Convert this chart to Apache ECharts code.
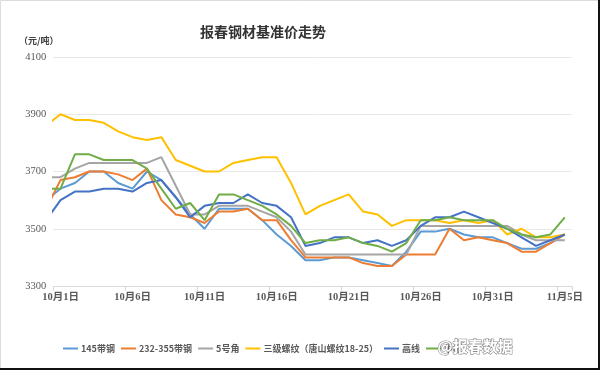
<!DOCTYPE html>
<html><head><meta charset="utf-8">
<script src="https://cdn.jsdelivr.net/npm/echarts@6/dist/echarts.min.js"></script>
<style>html,body{margin:0;padding:0;background:#fff}#c{width:600px;height:370px}</style>
</head><body><div id="c"></div>
<script>
// dates: the first one (9月30日) lies just left of the plot and is clipped, as in the reference
const dates = ['9月30日','10月1日','10月2日','10月3日','10月4日','10月5日','10月6日','10月7日','10月8日','10月9日','10月10日',
  '10月11日','10月12日','10月13日','10月14日','10月15日','10月16日','10月17日','10月18日','10月19日','10月20日',
  '10月21日','10月22日','10月23日','10月24日','10月25日','10月26日','10月27日','10月28日','10月29日','10月30日',
  '10月31日','11月1日','11月2日','11月3日','11月4日','11月5日'];
const axisDates = dates.slice(1);
const yMin = 3300, yMax = 4100, yStep = 200;

const s145 = [3600, 3640, 3660, 3700, 3700, 3660, 3640, 3700, 3670, 3610, 3550, 3500, 3570, 3570, 3570, 3530, 3480, 3440, 3390, 3390, 3400, 3400, 3390, 3380, 3370, 3420, 3490, 3490, 3500, 3480, 3470, 3470, 3450, 3430, 3430, 3450, 3480];
const s232 = [3570, 3670, 3680, 3700, 3700, 3690, 3670, 3710, 3600, 3550, 3540, 3520, 3560, 3560, 3570, 3530, 3530, 3460, 3400, 3400, 3400, 3400, 3380, 3370, 3370, 3410, 3410, 3410, 3500, 3460, 3470, 3460, 3450, 3420, 3420, 3450, 3480];
const s5 = [3680, 3680, 3710, 3730, 3730, 3730, 3730, 3730, 3750, 3650, 3550, 3550, 3580, 3580, 3580, 3560, 3540, 3490, 3410, 3410, 3410, 3410, 3410, 3410, 3410, 3410, 3510, 3510, 3510, 3510, 3510, 3510, 3510, 3480, 3460, 3460, 3460];
const sLuowen = [3860, 3900, 3880, 3880, 3870, 3840, 3820, 3810, 3820, 3740, 3720, 3700, 3700, 3730, 3740, 3750, 3750, 3660, 3550, 3580, 3600, 3620, 3560, 3550, 3510, 3530, 3530, 3530, 3520, 3530, 3520, 3530, 3480, 3500, 3470, 3470, 3480];
const sGaoxian = [3530, 3600, 3630, 3630, 3640, 3640, 3630, 3660, 3670, 3610, 3540, 3580, 3590, 3590, 3620, 3590, 3580, 3540, 3440, 3450, 3470, 3470, 3450, 3460, 3440, 3460, 3510, 3540, 3540, 3560, 3540, 3520, 3500, 3470, 3440, 3460, 3480];
const sZhongban = [3640, 3640, 3760, 3760, 3740, 3740, 3740, 3710, 3640, 3570, 3590, 3530, 3620, 3620, 3600, 3580, 3550, 3510, 3450, 3460, 3460, 3470, 3450, 3440, 3420, 3450, 3530, 3530, 3540, 3530, 3530, 3530, 3500, 3480, 3470, 3480, 3540];

const seriesNames = ['145带钢','232-355带钢','5号角','三级螺纹（唐山螺纹18-25）','高线','中板'];
const colors = ['#5B9BD5','#ED7D31','#A5A5A5','#FFC000','#4472C4','#70AD47'];
const values = [s145, s232, s5, sLuowen, sGaoxian, sZhongban];

const chart = echarts.init(document.getElementById('c'));
const series = values.map((arr, k) => ({
  name: seriesNames[k], type: 'line', xAxisIndex: 1, yAxisIndex: 0,
  data: arr.map((v, i) => [i - 0.5, v]),
  symbol: 'none', showSymbol: false, clip: true,
  lineStyle: { width: 2, color: colors[k] }, itemStyle: { color: colors[k] }
}));

chart.setOption({
  animation: false,
  backgroundColor: '#fff',
  title: [
    { text: '报春钢材基准价走势', left: 195, top: 20,
      textStyle: { fontSize: 14, fontWeight: 'bold', color: '#333', fontFamily: 'Noto Sans CJK SC' } },
    { text: '（元/吨）', left: 14, top: 31,
      textStyle: { fontSize: 9, fontWeight: 'bold', color: '#404040', fontFamily: 'Noto Sans CJK SC' } }
  ],
  grid: { left: 53.3, right: 28, top: 57, bottom: 84 },
  legend: {
    data: seriesNames, left: 58, top: 339, icon: 'rect', itemWidth: 15, itemHeight: 2, itemGap: 6,
    textStyle: { fontSize: 9, fontWeight: 'bold', color: '#595959', fontFamily: 'Noto Sans CJK SC', padding: [0,0,0,-2] }
  },
  xAxis: [
    { type: 'category', data: axisDates, boundaryGap: true,
      axisLine: { lineStyle: { color: '#d9d9d9' } },
      axisTick: { show: true, interval: 4, length: 5, lineStyle: { color: '#d9d9d9' } },
      axisLabel: { interval: 4, margin: 6, fontSize: 10.5, fontWeight: 'bold', color: '#595959',
        fontFamily: 'Liberation Serif, Noto Sans CJK SC' },
      splitLine: { show: false } },
    { type: 'value', min: 0, max: axisDates.length, show: false }
  ],
  yAxis: {
    type: 'value', min: yMin, max: yMax, interval: yStep,
    axisLine: { show: false }, axisTick: { show: false },
    axisLabel: { margin: 7, fontSize: 10.5, color: '#595959', fontFamily: 'Liberation Serif', formatter: v => String(v) },
    splitLine: { lineStyle: { color: '#e8e8e8', width: 1 } }
  },
  graphic: [
    { type: 'rect', shape: { x: 0.5, y: 0.5, width: 598, height: 368 }, style: { fill: 'none', stroke: '#dcdcdc' }, silent: true },
    { type: 'polyline', shape: { points: [[599, 0], [599, 369], [0, 369]] }, style: { fill: 'none', stroke: '#111', lineWidth: 2 }, silent: true },
    { type: 'text', left: 437, top: 338, z: 100, style: { text: '@报春数据', font: 'bold 15px "Noto Sans CJK SC"', fill: '#ffffff', stroke: '#8a8a8a', lineWidth: 1.2 } }
  ],
  series: series
});
</script></body></html>
